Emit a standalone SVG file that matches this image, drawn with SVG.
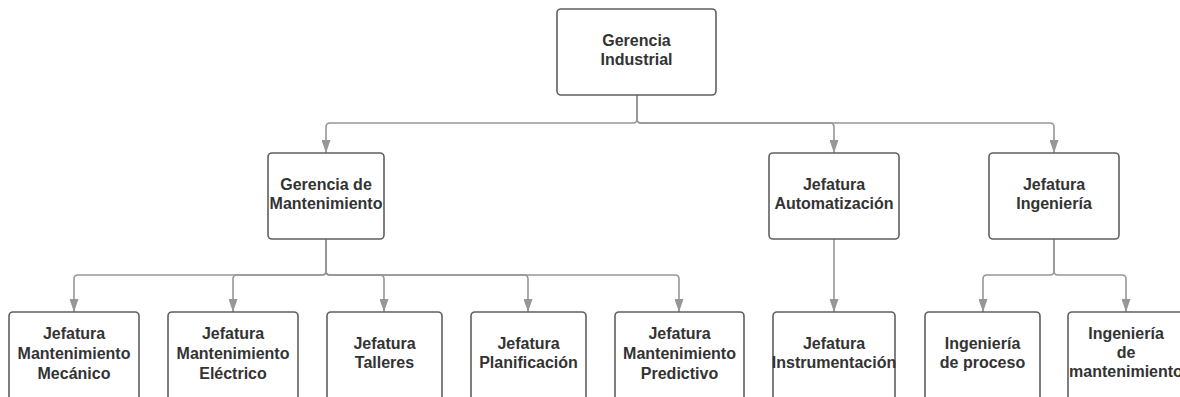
<svg xmlns="http://www.w3.org/2000/svg" width="1180" height="397" viewBox="0 0 1180 397">
<style>
.box{fill:#fff;stroke:#5f5f5f;stroke-width:1.6}
.lbl{font-family:"Liberation Sans",Arial,sans-serif;font-weight:bold;font-size:16px;fill:#333;text-anchor:middle}
.con{fill:none;stroke:#979797;stroke-width:1.6}
</style>
<defs>
<marker id="arr" viewBox="0 0 13 9" refX="13" refY="4.5" markerWidth="13" markerHeight="9" markerUnits="userSpaceOnUse" orient="auto">
<path d="M0,0 L13,4.5 L0,9 z" fill="#979797"/>
</marker>
</defs>
<rect width="1180" height="397" fill="#fff"/>
<g id="connectors">
<path class="con" marker-end="url(#arr)" d="M637,95 V119 Q637,123 633,123 H330 Q326,123 326,127 V153"/>
<path class="con" marker-end="url(#arr)" d="M637,95 V119 Q637,123 641,123 H830 Q834,123 834,127 V153"/>
<path class="con" marker-end="url(#arr)" d="M637,95 V119 Q637,123 641,123 H1050 Q1054,123 1054,127 V153"/>
<path class="con" marker-end="url(#arr)" d="M326,239 V271 Q326,275 322,275 H78 Q74,275 74,279 V312"/>
<path class="con" marker-end="url(#arr)" d="M326,239 V271 Q326,275 322,275 H237 Q233,275 233,279 V312"/>
<path class="con" marker-end="url(#arr)" d="M326,239 V271 Q326,275 330,275 H380 Q384,275 384,279 V312"/>
<path class="con" marker-end="url(#arr)" d="M326,239 V271 Q326,275 330,275 H524 Q528,275 528,279 V312"/>
<path class="con" marker-end="url(#arr)" d="M326,239 V271 Q326,275 330,275 H675 Q679,275 679,279 V312"/>
<path class="con" marker-end="url(#arr)" d="M834,239 V312"/>
<path class="con" marker-end="url(#arr)" d="M1054,239 V271 Q1054,275 1050,275 H987 Q983,275 983,279 V312"/>
<path class="con" marker-end="url(#arr)" d="M1054,239 V271 Q1054,275 1058,275 H1122 Q1126,275 1126,279 V312"/>
</g>
<g id="gerencia-industrial">
<rect class="box" x="557" y="9" width="159" height="86" rx="4"/>
<text class="lbl" x="636.5" y="46">Gerencia</text>
<text class="lbl" x="636.5" y="65">Industrial</text>
</g>
<g id="gerencia-mantenimiento">
<rect class="box" x="268" y="153" width="116" height="86" rx="4"/>
<text class="lbl" x="326" y="190">Gerencia de</text>
<text class="lbl" x="326" y="209">Mantenimiento</text>
</g>
<g id="jefatura-automatizacion">
<rect class="box" x="769" y="153" width="130" height="86" rx="4"/>
<text class="lbl" x="834" y="190">Jefatura</text>
<text class="lbl" x="834" y="209">Automatización</text>
</g>
<g id="jefatura-ingenieria">
<rect class="box" x="989" y="153" width="130" height="86" rx="4"/>
<text class="lbl" x="1054" y="190">Jefatura</text>
<text class="lbl" x="1054" y="209">Ingeniería</text>
</g>
<g id="jefatura-mecanico">
<rect class="box" x="9" y="312" width="130" height="92" rx="4"/>
<text class="lbl" x="74" y="339">Jefatura</text>
<text class="lbl" x="74" y="359">Mantenimiento</text>
<text class="lbl" x="74" y="379">Mecánico</text>
</g>
<g id="jefatura-electrico">
<rect class="box" x="168" y="312" width="130" height="92" rx="4"/>
<text class="lbl" x="233" y="339">Jefatura</text>
<text class="lbl" x="233" y="359">Mantenimiento</text>
<text class="lbl" x="233" y="379">Eléctrico</text>
</g>
<g id="jefatura-talleres">
<rect class="box" x="327" y="312" width="115" height="92" rx="4"/>
<text class="lbl" x="384.5" y="349">Jefatura</text>
<text class="lbl" x="384.5" y="368">Talleres</text>
</g>
<g id="jefatura-planificacion">
<rect class="box" x="471" y="312" width="115" height="92" rx="4"/>
<text class="lbl" x="528.5" y="349">Jefatura</text>
<text class="lbl" x="528.5" y="368">Planificación</text>
</g>
<g id="jefatura-predictivo">
<rect class="box" x="615" y="312" width="129" height="92" rx="4"/>
<text class="lbl" x="679.5" y="339">Jefatura</text>
<text class="lbl" x="679.5" y="359">Mantenimiento</text>
<text class="lbl" x="679.5" y="379">Predictivo</text>
</g>
<g id="jefatura-instrumentacion">
<rect class="box" x="773" y="312" width="122" height="92" rx="4"/>
<text class="lbl" x="834" y="349">Jefatura</text>
<text class="lbl" x="834" y="368">Instrumentación</text>
</g>
<g id="ingenieria-proceso">
<rect class="box" x="925" y="312" width="115" height="92" rx="4"/>
<text class="lbl" x="982.5" y="349">Ingeniería</text>
<text class="lbl" x="982.5" y="368">de proceso</text>
</g>
<g id="ingenieria-mantenimiento">
<rect class="box" x="1068" y="312" width="116" height="92" rx="4"/>
<text class="lbl" x="1126" y="339">Ingeniería</text>
<text class="lbl" x="1126" y="358">de</text>
<text class="lbl" x="1126" y="377">mantenimiento</text>
</g>
</svg>
